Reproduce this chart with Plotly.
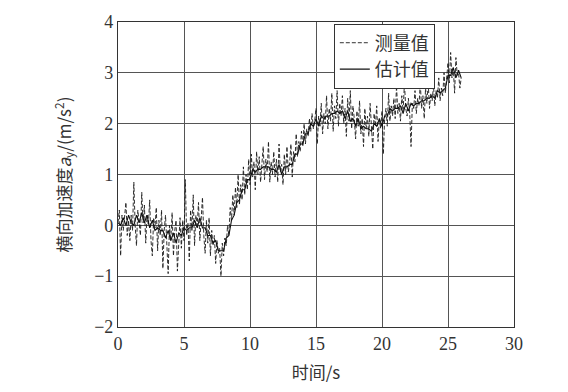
import numpy as np
import plotly.graph_objects as go

# measured values, t = 0.0 .. 26.0 step 0.1
t_meas_start, t_meas_step = 0.0, 0.1
measured = [
    0.05, 0.3, -0.6, 0.2, -0.1, 0.15, 0.45, -0.2, 0.1, -0.3,
    0.2, -0.1, 0.85, 0.0, -0.4, 0.3, 0.1, -0.2, 0.65, 0.05,
    0.4, -0.35, 0.2, 0.0, 0.5, -0.3, -0.6, 0.15, -0.05, 0.35,
    -0.5, 0.1, -0.2, 0.3, -0.85, -0.1, 0.2, -0.4, -0.95, 0.0,
    -0.3, 0.25, -0.6, -0.1, 0.1, -0.9, -0.2, 0.15, -0.45, 0.1,
    -0.3, 0.9, -0.2, 0.05, -0.7, 0.3, -0.1, 0.6, -0.4, 0.2,
    0.0, 0.45, -0.3, 0.2, 0.55, -0.2, -0.55, 0.1, -0.35, 0.15,
    -0.6, -0.1, -0.4, -0.2, -0.75, -0.3, -0.55, -0.45, -1.0, -0.35,
    -0.6, -0.25, -0.4, 0.0, -0.2, 0.35, 0.1, 0.6, 0.2, 0.75,
    0.35, 1.0, 0.4, 0.8, 0.5, 1.15, 0.6, 1.0, 0.7, 1.3,
    0.8, 1.4, 0.95, 1.25, 0.7, 1.45, 1.0, 1.35, 0.85, 1.2,
    1.55, 0.9, 1.3, 1.05, 1.65, 0.85, 1.25, 1.0, 1.45, 0.95,
    1.3, 0.85, 1.6, 1.05, 1.2, 0.8, 1.4, 1.0, 1.55, 1.05,
    1.2, 1.6, 0.95, 1.45, 1.25, 1.8, 1.35, 1.65, 1.45, 1.85,
    1.55, 2.0, 1.6, 1.9, 1.75, 2.1, 1.85, 2.2, 1.9, 2.05,
    2.3, 1.6, 2.15, 1.95, 2.4, 1.8, 2.2, 2.0, 2.55, 1.9,
    2.3, 2.05, 2.6, 1.85, 2.35, 2.1, 2.65, 1.95, 2.4, 2.15,
    2.55, 2.0, 2.3, 1.75, 2.5, 2.05, 2.65, 1.9, 2.35, 2.1,
    1.7, 2.25, 1.95, 2.45, 1.8, 2.1, 1.55, 2.3, 1.9, 2.15,
    1.75, 2.4, 1.85, 1.5, 2.2, 1.95, 2.35, 1.65, 2.1, 1.9,
    2.25, 1.4, 2.1, 2.3, 1.95, 2.6, 2.05, 2.35, 2.15, 2.5,
    2.1, 2.75, 2.2, 2.4, 2.05, 2.55, 2.25, 2.8, 2.3, 2.15,
    2.5, 2.2, 1.55, 2.4, 2.3, 2.65, 2.2, 2.5, 2.35, 2.8,
    2.3, 2.55, 2.1, 2.7, 2.4, 2.8, 2.3, 2.6, 2.45, 2.75,
    2.35, 2.65, 2.5, 2.9, 2.45, 2.7, 2.55, 3.0, 2.6, 2.85,
    3.2, 2.8, 3.4, 2.9, 3.1, 2.6, 3.3, 2.95, 3.0, 2.7,
    2.9,
]

# estimated values, t = 0.0 .. 26.0 step 0.2
t_est_start, t_est_step = 0.0, 0.2
estimated = [
    0.05, 0.0, 0.15, 0.0, 0.2, 0.05, 0.0, 0.2, 0.05, 0.25,
    0.05, 0.2, -0.05, 0.1, -0.1, -0.05, -0.1, -0.1, -0.25, -0.1,
    -0.3, -0.15, -0.35, -0.15, -0.2, -0.05, -0.1, -0.05, -0.05, 0.1,
    -0.05, 0.15, -0.05, -0.05, -0.2, -0.2, -0.35, -0.3, -0.5, -0.5,
    -0.5, -0.25, -0.2, 0.1, 0.2, 0.45, 0.5, 0.7, 0.7, 0.9,
    0.9, 1.1, 1.05, 1.1, 1.1, 1.15, 1.15, 1.15, 1.1, 1.1,
    1.05, 1.2, 1.0, 1.15, 1.15, 1.2, 1.2, 1.4, 1.4, 1.6,
    1.6, 1.8, 1.8, 2.0, 1.95, 2.1, 1.95, 2.15, 2.1, 2.15,
    2.15, 2.2, 2.2, 2.25, 2.2, 2.25, 2.1, 2.25, 2.05, 2.1,
    1.95, 2.1, 1.9, 1.95, 1.9, 1.9, 1.85, 2.0, 1.95, 2.1,
    1.95, 2.15, 2.15, 2.3, 2.25, 2.3, 2.3, 2.35, 2.2, 2.4,
    2.25, 2.4, 2.35, 2.4, 2.4, 2.45, 2.45, 2.5, 2.5, 2.55,
    2.5, 2.65, 2.6, 2.65, 2.7, 2.95, 2.95, 3.1, 2.9, 3.05,
    2.9,
]

x_ticks = [0, 5, 10, 15, 20, 25, 30]
y_ticks = [-2, -1, 0, 1, 2, 3, 4]

t_meas = t_meas_start + t_meas_step * np.arange(len(measured))
t_est = t_est_start + t_est_step * np.arange(len(estimated))

serif = "Times New Roman"
cjk = "Noto Sans CJK SC"

fig = go.Figure()
fig.add_trace(go.Scatter(x=t_meas, y=measured, mode="lines", name="测量值",
                         line=dict(color="#1a1a1a", width=0.9, dash="4px,2px")))
fig.add_trace(go.Scatter(x=t_est, y=estimated, mode="lines", name="估计值",
                         line=dict(color="#111111", width=1.1)))

axis_common = dict(showline=True, mirror=True, linecolor="#333333", linewidth=1.2,
                   showgrid=True, gridcolor="#555555", gridwidth=1, zeroline=False,
                   ticks="", tickfont=dict(family=serif, size=18, color="#333333"))

fig.update_layout(
    width=568, height=392,
    margin=dict(l=118, r=54, t=18, b=64),
    paper_bgcolor="white", plot_bgcolor="white",
    font=dict(family=serif),
    showlegend=True,
    legend=dict(x=0.545, y=0.995, xanchor="left", yanchor="top",
                bgcolor="white", bordercolor="#333333", borderwidth=1,
                font=dict(family=cjk, size=18, color="#333333"),
                tracegroupgap=0, itemwidth=30),
    xaxis=dict(range=[0, 30], tickvals=x_ticks, **axis_common,
               title=dict(text="时间/s", standoff=14,
                          font=dict(family=cjk, size=17, color="#333333"))),
    yaxis=dict(range=[-2, 4], tickvals=y_ticks, **axis_common,
               title=dict(text="横向加速度<i>a</i><sub>y</sub>/(m/s<sup>2</sup>)", standoff=18,
                          font=dict(family=cjk, size=17, color="#333333"))),
)

fig.write_html("out.html")
